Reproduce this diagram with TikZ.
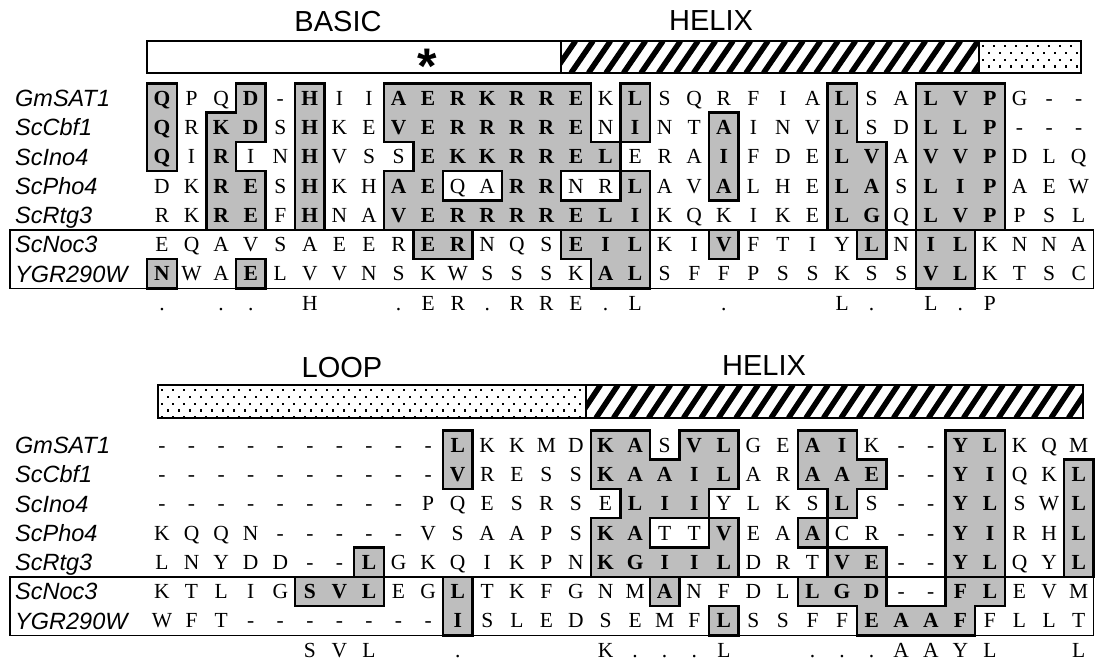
\documentclass[tikz,border=0pt]{standalone}
\usepackage{fontspec}
\setmainfont{Liberation Serif}
\newfontfamily\lblfont{Liberation Sans}
\definecolor{cellgray}{RGB}{190,190,190}
\newcommand\setshade[3]{\foreach \cc in {#3}{\expandafter\gdef\csname sh#1-#2-\cc\endcsname{}}}
\newcommand\defseq[3]{\expandafter\def\csname seq#1#2\endcsname{#3}}
% ---- top block shading
\setshade{T}{0}{0,3,5,8,9,10,11,12,13,14,16,23,26,27,28}
\setshade{T}{1}{0,2,3,5,8,9,10,11,12,13,14,16,19,23,26,27,28}
\setshade{T}{2}{0,2,5,9,10,11,12,13,14,15,19,23,24,26,27,28}
\setshade{T}{3}{2,3,5,8,9,12,13,16,19,23,24,26,27,28}
\setshade{T}{4}{2,3,5,8,9,10,11,12,13,14,15,16,23,24,26,27,28}
\setshade{T}{5}{9,10,14,15,16,19,24,26,27}
\setshade{T}{6}{0,3,15,16,26,27}
% ---- bottom block shading
\setshade{B}{0}{10,15,16,18,19,22,23,27,28}
\setshade{B}{1}{10,15,16,17,18,19,22,23,24,27,28,31}
\setshade{B}{2}{16,17,18,23,27,28,31}
\setshade{B}{3}{15,16,19,22,27,28,31}
\setshade{B}{4}{7,15,16,17,18,19,23,24,27,28,31}
\setshade{B}{5}{5,6,7,10,17,22,23,24,27,28}
\setshade{B}{6}{10,19,24,25,26,27}
% ---- sequences
\defseq{T}{0}{Q,P,Q,D,-,H,I,I,A,E,R,K,R,R,E,K,L,S,Q,R,F,I,A,L,S,A,L,V,P,G,-,-}
\defseq{T}{1}{Q,R,K,D,S,H,K,E,V,E,R,R,R,R,E,N,I,N,T,A,I,N,V,L,S,D,L,L,P,-,-,-}
\defseq{T}{2}{Q,I,R,I,N,H,V,S,S,E,K,K,R,R,E,L,E,R,A,I,F,D,E,L,V,A,V,V,P,D,L,Q}
\defseq{T}{3}{D,K,R,E,S,H,K,H,A,E,Q,A,R,R,N,R,L,A,V,A,L,H,E,L,A,S,L,I,P,A,E,W}
\defseq{T}{4}{R,K,R,E,F,H,N,A,V,E,R,R,R,R,E,L,I,K,Q,K,I,K,E,L,G,Q,L,V,P,P,S,L}
\defseq{T}{5}{E,Q,A,V,S,A,E,E,R,E,R,N,Q,S,E,I,L,K,I,V,F,T,I,Y,L,N,I,L,K,N,N,A}
\defseq{T}{6}{N,W,A,E,L,V,V,N,S,K,W,S,S,S,K,A,L,S,F,F,P,S,S,K,S,S,V,L,K,T,S,C}
\defseq{B}{0}{-,-,-,-,-,-,-,-,-,-,L,K,K,M,D,K,A,S,V,L,G,E,A,I,K,-,-,Y,L,K,Q,M}
\defseq{B}{1}{-,-,-,-,-,-,-,-,-,-,V,R,E,S,S,K,A,A,I,L,A,R,A,A,E,-,-,Y,I,Q,K,L}
\defseq{B}{2}{-,-,-,-,-,-,-,-,-,P,Q,E,S,R,S,E,L,I,I,Y,L,K,S,L,S,-,-,Y,L,S,W,L}
\defseq{B}{3}{K,Q,Q,N,-,-,-,-,-,V,S,A,A,P,S,K,A,T,T,V,E,A,A,C,R,-,-,Y,I,R,H,L}
\defseq{B}{4}{L,N,Y,D,D,-,-,L,G,K,Q,I,K,P,N,K,G,I,I,L,D,R,T,V,E,-,-,Y,L,Q,Y,L}
\defseq{B}{5}{K,T,L,I,G,S,V,L,E,G,L,T,K,F,G,N,M,A,N,F,D,L,L,G,D,-,-,F,L,E,V,M}
\defseq{B}{6}{W,F,T,-,-,-,-,-,-,-,I,S,L,E,D,S,E,M,F,L,S,S,F,F,E,A,A,F,F,L,L,T}
\expandafter\def\csname consT\endcsname{0/.,2/.,3/.,5/H,8/.,9/E,10/R,11/.,12/R,13/R,14/E,15/.,16/L,19/.,23/L,24/.,26/L,27/.,28/P}
\expandafter\def\csname consB\endcsname{5/S,6/V,7/L,10/.,15/K,16/.,17/.,18/.,19/L,22/.,23/.,24/.,25/A,26/A,27/Y,28/L,31/L}
\newcommand\xo{147.2}
\newcommand\pw{29.57}
\newcommand\rh{29.3}
\tikzset{
  aa/.style={font=\fontsize{21.5}{25}\selectfont, anchor=base, inner sep=0pt},
  aab/.style={font=\fontsize{21.5}{25}\selectfont\bfseries, anchor=base, inner sep=0pt},
  rowname/.style={font=\lblfont\itshape\fontsize{23.5}{27}\selectfont, anchor=base west, inner sep=0pt},
  hdr/.style={font=\lblfont\fontsize{29}{33}\selectfont, inner sep=0pt},
  regionedge/.style={line width=2.4pt, line cap=rect},
  encl/.style={line width=1.4pt},
  barline/.style={line width=1.8pt},
  sepline/.style={line width=1.2pt},
  stripe/.style={line width=5.5pt},
}
\newcommand\drawblock[2]{%
  \foreach \r in {0,...,6}{\foreach \c in {0,...,31}{%
    \ifcsname sh#1-\r-\c\endcsname
      \fill[cellgray] ({\xo+\pw*\c},{#2+\rh*\r}) rectangle ({\xo+\pw*(\c+1)},{#2+\rh*(\r+1)});
    \fi}}%
  \draw[encl] (10,{#2+\rh*5}) rectangle ({\xo+\pw*32},{#2+\rh*7});
  \foreach \r in {0,...,6}{\foreach \c in {0,...,31}{%
    \ifcsname sh#1-\r-\c\endcsname
      \pgfmathtruncatemacro\cmi{\c-1}%
      \pgfmathtruncatemacro\cpl{\c+1}%
      \pgfmathtruncatemacro\rmi{\r-1}%
      \pgfmathtruncatemacro\rpl{\r+1}%
      \pgfmathsetmacro\xl{\xo+\pw*\c}%
      \pgfmathsetmacro\xr{\xo+\pw*(\c+1)}%
      \pgfmathsetmacro\yt{#2+\rh*\r}%
      \pgfmathsetmacro\yb{#2+\rh*(\r+1)}%
      \ifcsname sh#1-\r-\cmi\endcsname\else\draw[regionedge] (\xl,\yt)--(\xl,\yb);\fi
      \ifcsname sh#1-\r-\cpl\endcsname\else\draw[regionedge] (\xr,\yt)--(\xr,\yb);\fi
      \ifcsname sh#1-\rmi-\c\endcsname\else\draw[regionedge] (\xl,\yt)--(\xr,\yt);\fi
      \ifcsname sh#1-\rpl-\c\endcsname\else\draw[regionedge] (\xl,\yb)--(\xr,\yb);\fi
    \fi}}%
  \foreach \r in {0,...,6}{%
    \expandafter\let\expandafter\cur\csname seq#1\r\endcsname
    \foreach \ch [count=\i from 0] in \cur {%
      \ifcsname sh#1-\r-\i\endcsname
        \node[aab] (#1-\r-\i) at ({\xo+\pw*(\i+0.5)},{#2+\rh*(\r+0.5)+7.1}) {\ch};
      \else
        \node[aa] (#1-\r-\i) at ({\xo+\pw*(\i+0.5)},{#2+\rh*(\r+0.5)+7.1}) {\ch};
      \fi}}%
  \foreach \nm [count=\r from 0] in {GmSAT1,ScCbf1,ScIno4,ScPho4,ScRtg3,ScNoc3,YGR290W}
    \node[rowname] (#1-name-\r) at (15,{#2+\rh*(\r+0.5)+8.4}) {\nm};
  \expandafter\let\expandafter\conslist\csname cons#1\endcsname
  \foreach \c/\ch in \conslist
    \node[aa] (#1-cons-\c) at ({\xo+\pw*(\c+0.5)},{#2+\rh*7.5+7.1}) {\ch};
}
\newcommand\hatchbar[4]{% x1 x2 ytop ybot
  \begin{scope}
    \clip (#1,#3) rectangle (#2,#4);
    \foreach \k in {0,...,40}{%
      \pgfmathsetmacro\hx{#1-25+17.5*\k}%
      \ifdim\hx pt<#2pt \draw[stripe] (\hx,#4) -- ({\hx+22},#3);\fi}
  \end{scope}}
\newcommand\dotbar[4]{%
  \begin{scope}
    \clip (#1,#3) rectangle (#2,#4);
    \foreach \j in {0,...,4}{\foreach \i in {0,...,45}{%
      \pgfmathsetmacro\dx{#1+3+11*\i+5.5*mod(\j,2)}%
      \ifdim\dx pt<#2pt \fill (\dx,{#3+4+6.8*\j}) rectangle ++(2.4,2.4);\fi}}
  \end{scope}}
\begin{document}
\begin{tikzpicture}[x=1pt,y=-1pt]
\fill[white] (0,0) rectangle (1097,661);
\useasboundingbox (0,0) rectangle (1097,661);
% ---------- top block
\node[hdr] (basic) at (338,22) {BASIC};
\node[hdr] (helixA) at (711,21) {HELIX};
\hatchbar{561}{979}{41}{73}
\dotbar{979}{1081}{41}{73}
\draw[barline] (147.2,41) rectangle (1081,73);
\draw[sepline] (561,41) -- (561,73) (979,41) -- (979,73);
\node[font=\lblfont\bfseries\fontsize{50}{54}\selectfont, anchor=base, inner sep=0pt] (star) at (427,84) {*};
\drawblock{T}{83.35}
% ---------- bottom block
\node[hdr] (loop) at (342,368) {LOOP};
\node[hdr] (helixB) at (764,366) {HELIX};
\dotbar{158}{586}{385}{418}
\hatchbar{586}{1083}{385}{418}
\draw[barline] (158,385) rectangle (1083,418);
\draw[sepline] (586,385) -- (586,418);
\drawblock{B}{430.35}
\end{tikzpicture}
\end{document}
